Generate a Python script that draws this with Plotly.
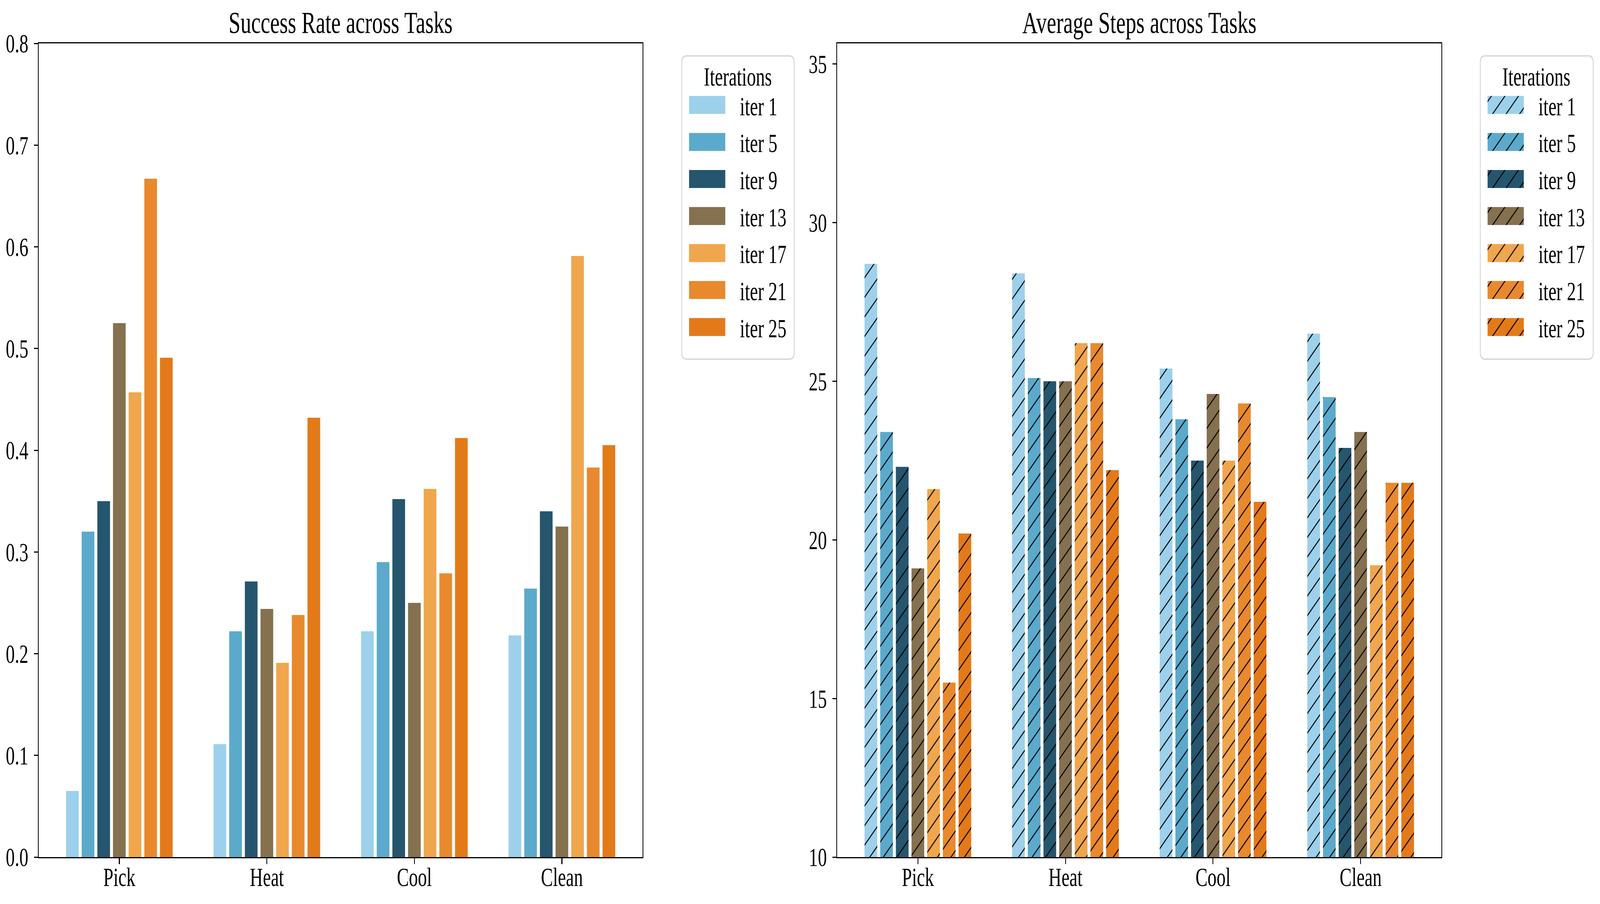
import plotly.graph_objects as go

# ---------------- data ----------------
tasks = ["Pick", "Heat", "Cool", "Clean"]
iterations = ["iter 1", "iter 5", "iter 9", "iter 13", "iter 17", "iter 21", "iter 25"]
colors = ["#9DD0EB", "#5BAACB", "#26556E", "#85704F", "#F0A64C", "#E8892E", "#E37A1A"]

# success rate per iteration (Pick, Heat, Cool, Clean)
success_iter1 = [0.065, 0.111, 0.222, 0.218]
success_iter5 = [0.320, 0.222, 0.290, 0.264]
success_iter9 = [0.350, 0.271, 0.352, 0.340]
success_iter13 = [0.525, 0.244, 0.250, 0.325]
success_iter17 = [0.457, 0.191, 0.362, 0.591]
success_iter21 = [0.667, 0.238, 0.279, 0.383]
success_iter25 = [0.491, 0.432, 0.412, 0.405]

# average steps per iteration (Pick, Heat, Cool, Clean)
steps_iter1 = [28.7, 28.4, 25.4, 26.5]
steps_iter5 = [23.4, 25.1, 23.8, 24.5]
steps_iter9 = [22.3, 25.0, 22.5, 22.9]
steps_iter13 = [19.1, 25.0, 24.6, 23.4]
steps_iter17 = [21.6, 26.2, 22.5, 19.2]
steps_iter21 = [15.5, 26.2, 24.3, 21.8]
steps_iter25 = [20.2, 22.2, 21.2, 21.8]

success_rates = [success_iter1, success_iter5, success_iter9, success_iter13,
                 success_iter17, success_iter21, success_iter25]
avg_steps = [steps_iter1, steps_iter5, steps_iter9, steps_iter13,
             steps_iter17, steps_iter21, steps_iter25]

# ---------------- layout helpers ----------------
W, H = 5921, 2313
FONT = "Liberation Serif"
TICK_SIZE = 66.7
TITLE_SIZE = 79


def fx(px):
    return px / W


def fy(py):
    return 1 - py / H


fig = go.Figure()

for name, color, vals in zip(iterations, colors, success_rates):
    fig.add_trace(go.Bar(
        x=tasks, y=vals, name=name,
        marker=dict(color=color, line=dict(width=0)),
        xaxis="x", yaxis="y", legend="legend", legendgroup=name + "_sr",
    ))

for name, color, vals in zip(iterations, colors, avg_steps):
    fig.add_trace(go.Bar(
        x=tasks, y=vals, name=name,
        marker=dict(color=color, line=dict(width=0),
                    pattern=dict(shape="/", fgcolor="black", bgcolor=color,
                                 size=35.4, solidity=0.085, fillmode="replace")),
        xaxis="x2", yaxis="y2", legend="legend2", legendgroup=name + "_st",
    ))

axis_common = dict(
    showline=True, linecolor="black", linewidth=2.7, mirror=True,
    ticks="outside", ticklen=15, tickwidth=2.7, tickcolor="black",
    showgrid=False, zeroline=False, automargin=False,
    tickfont=dict(size=TICK_SIZE, family=FONT, color="black"),
)

legend_common = dict(
    xanchor="left", yanchor="top",
    bgcolor="rgba(0,0,0,0)", borderwidth=0,
    font=dict(size=TICK_SIZE, family=FONT, color="black"),
    title=dict(text="Iterations", side="top center",
               font=dict(size=TICK_SIZE, family=FONT, color="black")),
    itemwidth=183, tracegroupgap=5, traceorder="grouped",
)


def rounded_box(x0p, y0p, x1p, y1p, r=18):
    x0, x1 = fx(x0p), fx(x1p)
    yt, yb = fy(y0p), fy(y1p)
    rx, ry = r / W, r / H
    return (f"M{x0 + rx},{yt} L{x1 - rx},{yt} Q{x1},{yt} {x1},{yt - ry} "
            f"L{x1},{yb + ry} Q{x1},{yb} {x1 - rx},{yb} "
            f"L{x0 + rx},{yb} Q{x0},{yb} {x0},{yb + ry} "
            f"L{x0},{yt - ry} Q{x0},{yt} {x0 + rx},{yt} Z")


box_style = dict(type="path", xref="paper", yref="paper",
                 line=dict(color="#D6D6D6", width=3.3), fillcolor="rgba(255,255,255,0.8)",
                 layer="below")

fig.update_layout(
    width=W, height=H,
    margin=dict(l=0, r=0, t=0, b=0, pad=0, autoexpand=False),
    paper_bgcolor="white", plot_bgcolor="white",
    font=dict(family=FONT, color="black", size=TICK_SIZE),
    barmode="group", bargap=0.257, bargroupgap=0.19,
    showlegend=True,
    xaxis=dict(domain=[fx(143), fx(2378)], anchor="y", type="category",
               range=[-0.547, 3.547], ticklabelstandoff=-24, **axis_common),
    yaxis=dict(domain=[fy(2193), fy(111)], anchor="x", range=[0, 0.8],
               tick0=0, dtick=0.1, tickformat=".1f", ticklabelstandoff=7, **axis_common),
    xaxis2=dict(domain=[fx(3098), fx(5334)], anchor="y2", type="category",
                range=[-0.547, 3.547], ticklabelstandoff=-24, **axis_common),
    yaxis2=dict(domain=[fy(2193), fy(111)], anchor="x2", range=[10, 35.65],
                tick0=10, dtick=5, ticklabelstandoff=7, **axis_common),
    legend=dict(x=fx(2545), y=fy(132), **legend_common),
    legend2=dict(x=fx(5500), y=fy(132), **legend_common),
    shapes=[dict(path=rounded_box(2523, 143, 2939, 919), **box_style),
            dict(path=rounded_box(5478, 143, 5896, 919), **box_style)],
    annotations=[
        dict(text="Success Rate across Tasks", xref="paper", yref="paper",
             x=(fx(143) + fx(2378)) / 2, y=fy(111), xanchor="center", yanchor="bottom",
             yshift=8, showarrow=False, font=dict(size=TITLE_SIZE, family=FONT, color="black")),
        dict(text="Average Steps across Tasks", xref="paper", yref="paper",
             x=(fx(3098) + fx(5334)) / 2, y=fy(111), xanchor="center", yanchor="bottom",
             yshift=8, showarrow=False, font=dict(size=TITLE_SIZE, family=FONT, color="black")),
    ],
)

post_js = """
var gd = document.getElementById('{plot_id}');
function styleLegendSwatches() {
  var barFill = {};
  gd.querySelectorAll('.barlayer .trace').forEach(function (t) {
    var d = t.__data__;
    if (!d || !d[0] || !d[0].trace) { return; }
    var p = t.querySelector('.point path');
    if (p && p.style.fill) { barFill[d[0].trace.uid] = p.style.fill; }
  });
  gd.querySelectorAll('g.traces').forEach(function (g) {
    var d = g.__data__;
    g.querySelectorAll('.legendpoints path').forEach(function (p) {
      p.setAttribute('d', 'M-91.5,-23h134v46h-134Z');
      if (d && d[0] && d[0].trace) {
        var f = barFill[d[0].trace.uid];
        if (f && f.indexOf('url') === 0) { p.style.fill = f; }
      }
    });
  });
}
function fitToWindow() {
  var sx = window.innerWidth / 5921;
  var sy = window.innerHeight / 2313;
  var de = document.documentElement, b = document.body;
  de.style.margin = '0'; b.style.margin = '0'; b.style.padding = '0';
  de.style.overflow = 'hidden'; b.style.overflow = 'hidden';
  if (Math.abs(sx - 1) < 1e-3 && Math.abs(sy - 1) < 1e-3) { return; }
  var wrap = gd.parentElement;
  gd.style.transformOrigin = '0 0';
  gd.style.transform = 'scale(' + sx + ',' + sy + ')';
  wrap.style.width = (5921 * sx) + 'px';
  wrap.style.height = (2313 * sy) + 'px';
  wrap.style.overflow = 'hidden';
}
styleLegendSwatches();
fitToWindow();
gd.on('plotly_afterplot', styleLegendSwatches);
"""

fig.write_html("out.html", post_script=post_js, config={"displayModeBar": False})
